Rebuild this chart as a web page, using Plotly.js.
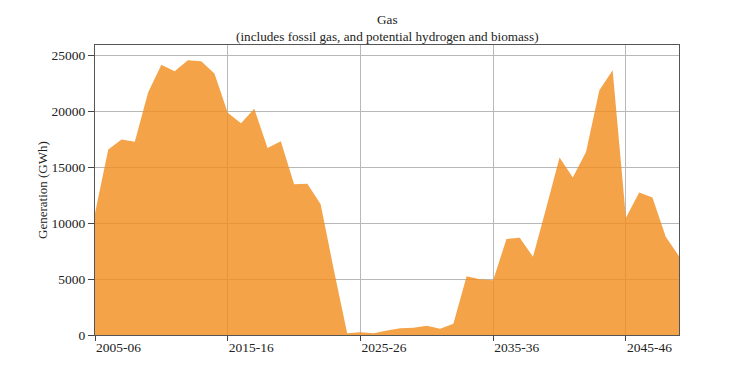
<!DOCTYPE html>
<html>
<head>
<meta charset="utf-8">
<script src="https://cdn.plot.ly/plotly-3.0.1.min.js"></script>
<style>html,body{margin:0;padding:0;background:#fff;}#chart{width:754px;height:377px;}</style>
</head>
<body>
<div id="chart"></div>
<script>
const years = [];
for (let y = 2005; y <= 2049; y++) {
  years.push(y + "-" + String((y + 1) % 100).padStart(2, "0"));
}
const generation = [
  10900, 16600, 17500, 17300, 21700, 24200, 23600, 24600, 24500, 23400,
  19900, 18950, 20250, 16750, 17350, 13500, 13550, 11700, 5800, 150,
  250, 150, 400, 600, 650, 830, 550, 1000, 5250, 5000,
  4900, 8600, 8700, 7000, 11400, 15900, 14100, 16400, 21900, 23700,
  10500, 12750, 12300, 8800, 7050
];
const tickLabels = ["2005-06", "2015-16", "2025-26", "2035-36", "2045-46"];
const yTicks = [0, 5000, 10000, 15000, 20000, 25000];
const titleLine = "Gas";
const subtitleLine = "(includes fossil gas, and potential hydrogen and biomass)";
const yTitle = "Generation (GWh)";

const fam = "Liberation Serif, Times New Roman, serif";
const txt = {family: fam, size: 13.5, color: "#222"};

Plotly.newPlot("chart", [{
  type: "scatter",
  x: years,
  y: generation,
  mode: "none",
  fill: "tozeroy",
  fillcolor: "rgba(241,140,26,0.8)",
  hoverinfo: "x+y"
}], {
  width: 754,
  height: 377,
  margin: {l: 95, r: 75, t: 45, b: 42},
  paper_bgcolor: "#fff",
  plot_bgcolor: "#fff",
  font: {family: fam, size: 13, color: "#222"},
  showlegend: false,
  annotations: [
    {text: titleLine + "<br>" + subtitleLine, xref: "paper", yref: "paper", x: 0.5, y: 1.0569, xanchor: "center", yanchor: "middle", align: "center", showarrow: false, font: {family: fam, size: 13.2, color: "#222"}},
    {text: yTitle, xref: "paper", yref: "paper", x: -0.0908, y: 0.5, xanchor: "center", yanchor: "middle", textangle: -90, showarrow: false, font: {family: fam, size: 13, color: "#222"}}
  ],
  xaxis: {
    type: "category",
    range: [0, years.length - 1],
    tickmode: "array",
    tickvals: tickLabels,
    ticktext: tickLabels,
    ticks: "outside",
    ticklen: 5,
    tickcolor: "#444",
    ticklabelposition: "outside right",
    showgrid: true,
    gridcolor: "#b8b8b8",
    gridwidth: 1,
    showline: true,
    linecolor: "#555",
    linewidth: 1,
    mirror: true,
    zeroline: false,
    tickfont: txt
  },
  yaxis: {
    range: [0, 25960],
    tickmode: "array",
    tickvals: yTicks,
    ticktext: yTicks.map(String),
    ticks: "outside",
    ticklen: 6,
    tickcolor: "#444",
    showgrid: true,
    gridcolor: "#b8b8b8",
    gridwidth: 1,
    showline: true,
    linecolor: "#555",
    linewidth: 1,
    mirror: true,
    zeroline: false,
    tickfont: txt
  }
}, {displayModeBar: false, staticPlot: true});
</script>
</body>
</html>
